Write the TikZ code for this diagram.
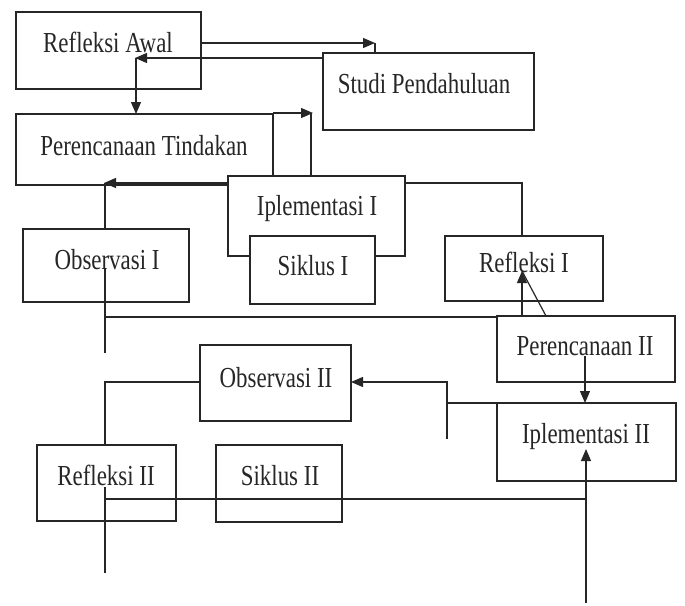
\documentclass[tikz,border=0pt]{standalone}
\usepackage{fontspec}
\setmainfont[FakeStretch=0.79]{Liberation Serif}
\usetikzlibrary{arrows.meta}
\begin{document}
\begin{tikzpicture}[x=1pt,y=-1pt,
  ln/.style={line width=1.2pt,draw=black!85},
  arr/.style={ln,-{Triangle[length=12pt,width=10pt]}},
  boxn/.style={ln,fill=white,rectangle,inner sep=0pt,outer sep=0pt},
  lbl/.style={anchor=base,inner sep=0pt,font=\fontsize{29}{34}\selectfont,text=black!85}]
\useasboundingbox[fill=white] (0,0) rectangle (685,605);

% ---- top part ----
\node[boxn,minimum width=185pt,minimum height=77pt] (ra) at (108.5,50.5) {};
\node[lbl] (ratx) at (108,52) {Refleksi Awal};
\node[boxn,minimum width=211pt,minimum height=77pt] (sp) at (428.5,91.5) {};
\node[lbl] (sptx) at (424,93) {Studi Pendahuluan};

\coordinate (a1s) at (201,43);
\coordinate (a1e) at (375,43);
\coordinate (a1d) at (375,53);
\draw[arr] (a1s) -- (a1e);
\draw[ln] (a1e) -- (a1d);

\coordinate (a2s) at (323,58);
\coordinate (a2e) at (135,58);
\coordinate (a3e) at (136,114);
\draw[arr] (a2s) -- (a2e);
\draw[arr] (136,58) -- (a3e);

\node[boxn,minimum width=257pt,minimum height=71pt] (pt) at (144.5,149.5) {};
\node[lbl] (pttx) at (144,155) {Perencanaan Tindakan};
\coordinate (a4s) at (273,113);
\coordinate (a4e) at (313,113);
\coordinate (v311t) at (311,113);
\coordinate (v311b) at (311,177);
\draw[arr] (a4s) -- (a4e);
\draw[ln] (v311t) -- (v311b);

\coordinate (a5s) at (228,183);
\coordinate (a5e) at (104,183);
\coordinate (v105a) at (105,183);
\coordinate (v105b) at (105,353);
\draw[ln] (v105a) -- (v105b);
\draw[arr] (a5s) -- (a5e);

\node[boxn,minimum width=177pt,minimum height=80pt] (i1) at (316.5,216) {};
\node[lbl] (i1tx) at (317,215) {Iplementasi I};
\node[boxn,minimum width=125pt,minimum height=68pt] (s1) at (312.5,270) {};
\node[lbl] (s1tx) at (313,275) {Siklus I};

\node[boxn,minimum width=166pt,minimum height=73pt] (o1) at (106,265.5) {};
\node[lbl] (o1tx) at (107,269) {Observasi I};
\coordinate (v105c) at (105,268);
\draw[ln] (v105c) -- (v105b);
\coordinate (h317a) at (105,317);
\coordinate (h317b) at (497,317);
\draw[ln] (h317a) -- (h317b);

\coordinate (c1) at (405,183);
\coordinate (c2) at (522,183);
\coordinate (c3) at (522,236);
\draw[ln] (c1) -- (c2) -- (c3);

\node[boxn,minimum width=158pt,minimum height=65pt] (r1) at (524,268.5) {};
\node[lbl] (r1tx) at (524,272) {Refleksi I};

\node[boxn,minimum width=178pt,minimum height=66pt] (p2) at (586,349) {};
\node[lbl] (p2tx) at (585,355) {Perencanaan II};
\coordinate (a6s) at (522,316);
\coordinate (a6e) at (522,271);
\coordinate (d1) at (546,316);
\draw[arr] (a6s) -- (a6e);
\draw[ln] (d1) -- (a6e);

\coordinate (a7s) at (585,356);
\coordinate (a7e) at (585,403);

% ---- bottom part ----
\coordinate (b1) at (447,439);
\coordinate (b2) at (447,382);
\coordinate (b3) at (351,382);
\coordinate (b4) at (447,403);
\coordinate (b5) at (497,403);
\draw[ln] (b4) -- (b5);
\draw[arr] (b1) -- (b2) -- (b3);

\node[boxn,minimum width=179pt,minimum height=78pt] (i2) at (586.5,442) {};
\node[lbl] (i2tx) at (586,443) {Iplementasi II};
\draw[arr] (a7s) -- (a7e);

\node[boxn,minimum width=151pt,minimum height=76pt] (o2) at (275.5,383) {};
\node[lbl] (o2tx) at (276,387) {Observasi II};
\coordinate (e1) at (200,382);
\coordinate (e2) at (105,382);
\coordinate (e3) at (105,445);
\draw[ln] (e1) -- (e2) -- (e3);

\node[boxn,minimum width=139pt,minimum height=76pt] (r2) at (106.5,483) {};
\node[lbl] (r2tx) at (106,485) {Refleksi II};
\node[boxn,minimum width=126pt,minimum height=77pt] (s2) at (279,483.5) {};
\node[lbl] (s2tx) at (280,485) {Siklus II};

\coordinate (f1) at (105,487);
\coordinate (f2) at (105,573);
\coordinate (g1) at (105,499);
\coordinate (g2) at (586,499);
\coordinate (h1) at (586,603);
\coordinate (h2) at (586,449);
\draw[ln] (f1) -- (f2);
\draw[ln] (g1) -- (g2);
\draw[arr] (h1) -- (h2);
\end{tikzpicture}
\end{document}
